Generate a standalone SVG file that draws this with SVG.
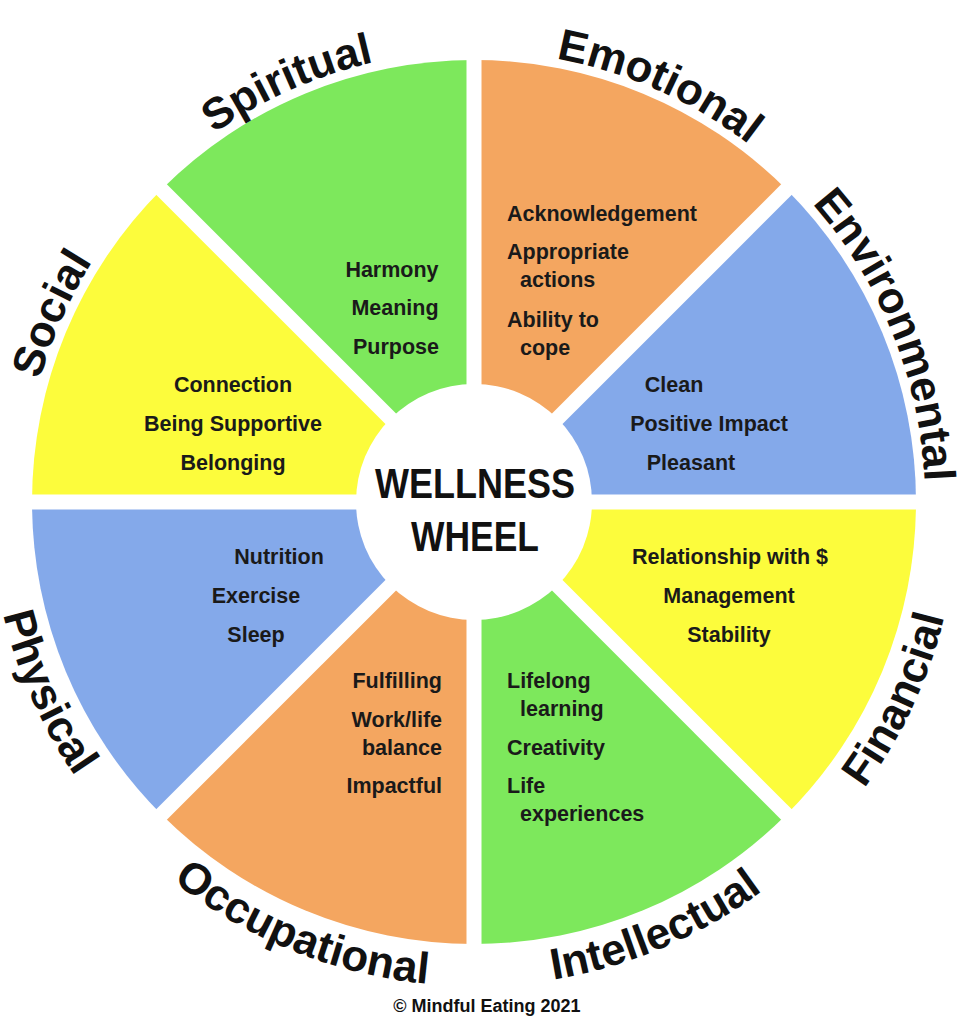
<svg xmlns="http://www.w3.org/2000/svg" width="975" height="1024" viewBox="0 0 975 1024">
<style>
.o{fill:#f4a660}.g{fill:#7de85c}.b{fill:#84a9ea}.y{fill:#fcfc3c}
.lab{font-family:"Liberation Sans",Arial,sans-serif;font-weight:bold;font-size:44px;fill:#111}
.t{font-family:"Liberation Sans",Arial,sans-serif;font-weight:bold;font-size:21.5px;fill:#1a1a1a}
</style>
<defs>
<path id="topArc" d="M155.1,183.1 A451,451 0 0 1 792.9,183.1"/>
<path id="botArc" d="M131.7,844.3 A484,484 0 0 0 816.3,844.3"/>
</defs>
<rect width="975" height="1024" fill="#fff"/>
<g id="sectors">
<path class="o" d="M474,502 L474,60 A442,442 0 0 1 786.5,189.5 Z"/>
<path class="b" d="M474,502 L786.5,189.5 A442,442 0 0 1 916,502 Z"/>
<path class="y" d="M474,502 L916,502 A442,442 0 0 1 786.5,814.5 Z"/>
<path class="g" d="M474,502 L786.5,814.5 A442,442 0 0 1 474,944 Z"/>
<path class="o" d="M474,502 L474,944 A442,442 0 0 1 161.5,814.5 Z"/>
<path class="b" d="M474,502 L161.5,814.5 A442,442 0 0 1 32,502 Z"/>
<path class="y" d="M474,502 L32,502 A442,442 0 0 1 161.5,189.5 Z"/>
<path class="g" d="M474,502 L161.5,189.5 A442,442 0 0 1 474,60 Z"/>
</g>
<g id="gaps" stroke="#fff" stroke-width="15">
<line x1="474" y1="50" x2="474" y2="954"/>
<line x1="22" y1="502" x2="926" y2="502"/>
<line x1="154" y1="182" x2="794" y2="822"/>
<line x1="794" y1="182" x2="154" y2="822"/>
</g>
<circle cx="474" cy="502" r="118" fill="#fff"/>
<g id="labels" class="lab">
<text transform="rotate(24,474,502)" text-anchor="middle"><textPath href="#topArc" startOffset="50%">Emotional</textPath></text>
<text transform="rotate(-24,474,502)" text-anchor="middle"><textPath href="#topArc" startOffset="50%">Spiritual</textPath></text>
<text transform="rotate(68,474,502)" text-anchor="middle"><textPath href="#topArc" startOffset="50%">Environmental</textPath></text>
<text transform="rotate(-66,474,502)" text-anchor="middle"><textPath href="#topArc" startOffset="50%">Social</textPath></text>
<text transform="rotate(-65,474,502)" text-anchor="middle"><textPath href="#botArc" startOffset="50%">Financial</textPath></text>
<text transform="rotate(66,474,502)" text-anchor="middle"><textPath href="#botArc" startOffset="50%">Physical</textPath></text>
<text transform="rotate(-23,474,502)" text-anchor="middle"><textPath href="#botArc" startOffset="50%">Intellectual</textPath></text>
<text transform="rotate(22,474,502)" text-anchor="middle"><textPath href="#botArc" startOffset="50%">Occupational</textPath></text>
</g>
<g id="spiritual" class="t" text-anchor="middle">
<text x="392" y="277">Harmony</text><text x="395" y="315">Meaning</text><text x="396" y="354">Purpose</text>
</g>
<g id="emotional" class="t">
<text x="507" y="221">Acknowledgement</text><text x="507" y="259">Appropriate</text><text x="520" y="287">actions</text><text x="507" y="327">Ability to</text><text x="520" y="355">cope</text>
</g>
<g id="environmental" class="t" text-anchor="middle">
<text x="674" y="392">Clean</text><text x="709" y="431">Positive Impact</text><text x="691" y="470">Pleasant</text>
</g>
<g id="social" class="t" text-anchor="middle">
<text x="233" y="392">Connection</text><text x="233" y="431">Being Supportive</text><text x="233" y="470">Belonging</text>
</g>
<g id="physical" class="t" text-anchor="middle">
<text x="279" y="564">Nutrition</text><text x="256" y="603">Exercise</text><text x="256" y="642">Sleep</text>
</g>
<g id="financial" class="t" text-anchor="middle">
<text x="730" y="564">Relationship with $</text><text x="729" y="603">Management</text><text x="729" y="642">Stability</text>
</g>
<g id="occupational" class="t" text-anchor="end">
<text x="442" y="688">Fulfilling</text><text x="442" y="727">Work/life</text><text x="442" y="755">balance</text><text x="442" y="793">Impactful</text>
</g>
<g id="intellectual" class="t">
<text x="507" y="688">Lifelong</text><text x="520" y="716">learning</text><text x="507" y="755">Creativity</text><text x="507" y="793">Life</text><text x="520" y="821">experiences</text>
</g>
<g id="center" font-family="Liberation Sans,Arial,sans-serif" font-weight="bold" font-size="42" fill="#111" text-anchor="middle">
<text x="475" y="498" textLength="200" lengthAdjust="spacingAndGlyphs">WELLNESS</text>
<text x="475" y="551" textLength="128" lengthAdjust="spacingAndGlyphs">WHEEL</text>
</g>
<text x="487" y="1012" text-anchor="middle" font-family="Liberation Sans,Arial,sans-serif" font-weight="bold" font-size="18" fill="#111">© Mindful Eating 2021</text>
</svg>
